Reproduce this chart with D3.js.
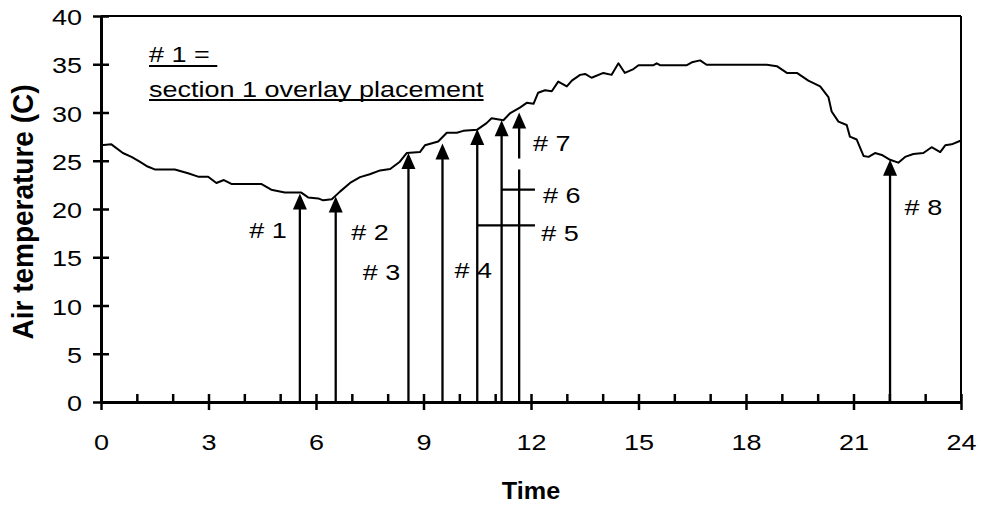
<!DOCTYPE html>
<html><head><meta charset="utf-8">
<script src="https://cdn.jsdelivr.net/npm/d3@7"></script>
<style>body{margin:0;background:#fff}svg{display:block}</style>
</head><body>
<svg id="c" width="982" height="506"></svg>
<script>
// ---- data ----
const times = [0.0,0.29,0.61,0.85,1.08,1.3,1.5,2.06,2.43,2.71,2.99,3.22,3.43,3.64,4.47,4.75,5.13,5.59,5.78,6.06,6.2,6.44,6.67,6.95,7.23,7.5,7.79,8.07,8.34,8.53,8.9,9.04,9.41,9.65,9.93,10.11,10.49,10.76,10.9,11.23,11.41,11.69,11.88,12.07,12.2,12.39,12.58,12.76,13.0,13.14,13.37,13.51,13.69,14.02,14.25,14.44,14.62,14.86,15.0,15.42,15.51,15.6,16.35,16.49,16.72,16.9,18.58,18.86,19.14,19.42,19.74,20.07,20.3,20.39,20.58,20.81,20.9,21.09,21.28,21.42,21.6,21.79,22.02,22.25,22.44,22.67,22.95,23.18,23.42,23.56,23.74,24.0];
const temps = [26.6,26.7,25.8,25.4,24.9,24.4,24.1,24.1,23.7,23.35,23.35,22.7,23.0,22.6,22.6,22.0,21.7,21.7,21.2,21.1,20.9,21.0,21.8,22.7,23.3,23.6,24.0,24.15,24.9,25.8,25.9,26.6,27.0,27.9,27.9,28.1,28.2,28.9,29.4,29.2,29.9,30.5,31.0,30.9,32.05,32.3,32.2,33.2,32.7,33.3,33.9,34.0,33.6,34.1,33.9,35.1,34.1,34.5,34.9,34.9,35.1,34.9,34.9,35.2,35.4,34.95,34.95,34.8,34.1,34.1,33.3,32.7,31.6,30.1,29.05,28.7,27.5,27.2,25.5,25.4,25.8,25.6,25.1,24.8,25.4,25.7,25.8,26.4,25.9,26.6,26.7,27.1];
const arrowNames = ["# 1","# 2","# 3","# 4","# 5","# 6","# 7","# 8"];
const arrowTimes = [5.55,6.55,8.58,9.53,10.5,11.18,11.67,22.02];
const arrowTops  = [21.6,21.3,25.8,26.8,28.3,29.2,30.0,25.1];
const xTickValues = [0,3,6,9,12,15,18,21,24];
const yTickValues = [0,5,10,15,20,25,30,35,40];
const noteLines = ["# 1 =","section 1 overlay placement"];
const xTitle = "Time", yTitle = "Air temperature (C)";

// ---- layout ----
const svg = d3.select("#c");
const FONT = "'Liberation Sans', Arial, Helvetica, sans-serif";
const SX = 1.2; // horizontal text stretch of the reference
const x = d3.scaleLinear().domain([0,24]).range([101,961]);
const y = d3.scaleLinear().domain([0,40]).range([402,16]);

function styleText(sel, size) {
  sel.attr("font-family",FONT).attr("font-size",size).attr("fill","#000");
}

// frame (top + right)
svg.append("line").attr("x1",x(0)).attr("x2",x(24)).attr("y1",y(40)).attr("y2",y(40)).attr("stroke","#000").attr("stroke-width",2);
svg.append("line").attr("x1",x(24)).attr("x2",x(24)).attr("y1",y(40)).attr("y2",y(0)).attr("stroke","#000").attr("stroke-width",2);

// minor x ticks
const minor = d3.range(0,25).filter(h=>h%3!==0);
svg.append("g").attr("transform",`translate(0,${y(0)})`)
  .call(d3.axisBottom(x).tickValues(minor).tickSize(-8).tickSizeOuter(0).tickFormat(""))
  .call(g=>g.select(".domain").remove())
  .call(g=>g.selectAll("line").attr("stroke-width",2.5));

// major x axis
const gx = svg.append("g").attr("transform",`translate(0,${y(0)})`)
  .call(d3.axisBottom(x).tickValues(xTickValues).tickSizeOuter(0).tickFormat(d3.format("d")));
gx.select(".domain").attr("stroke-width",3);
gx.selectAll(".tick line").attr("y1",-8).attr("y2",8).attr("stroke-width",2.5);
gx.selectAll(".tick text").attr("y",0).attr("dy",null).attr("transform",`translate(0,48) scale(${SX},1)`)
  .call(s=>styleText(s,22.5));

// y axis
const gy = svg.append("g").attr("transform",`translate(${x(0)},0)`)
  .call(d3.axisLeft(y).tickValues(yTickValues).tickSizeOuter(0));
gy.select(".domain").attr("stroke-width",3);
gy.selectAll(".tick line").attr("x1",-8).attr("x2",8).attr("stroke-width",2.5);
gy.selectAll(".tick text").attr("x",0).attr("dy",null).attr("y",0)
  .attr("transform",`translate(-19,8.5) scale(${SX},1)`).attr("text-anchor","end")
  .call(s=>styleText(s,22.5));

// titles
svg.append("text").text(xTitle).attr("font-family",FONT).attr("font-weight","bold").attr("font-size",24)
  .attr("text-anchor","middle").attr("transform",`translate(${x(12)},499) scale(1.05,1)`);
svg.append("text").text(yTitle).attr("font-family",FONT).attr("font-weight","bold").attr("font-size",28)
  .attr("text-anchor","middle").attr("transform",`translate(33,212) scale(1.08,1) rotate(-90)`);

// temperature curve
const pts = times.map((t,i)=>[t,temps[i]]);
svg.append("path").datum(pts).attr("fill","none").attr("stroke","#000").attr("stroke-width",2)
  .attr("stroke-linejoin","round")
  .attr("d",d3.line().x(d=>x(d[0])).y(d=>y(d[1])));

// arrows
const AH = 16, AW = 7;
const arrows = arrowTimes.map((t,i)=>({t, top:arrowTops[i], name:arrowNames[i]}));
arrows.forEach((a,i)=>{
  const ax = x(a.t), ty = y(a.top);
  if (i===6) { // #7 has a small break in its shaft
    svg.append("line").attr("x1",ax).attr("x2",ax).attr("y1",y(0)).attr("y2",169.5).attr("stroke","#000").attr("stroke-width",2.3);
    svg.append("line").attr("x1",ax).attr("x2",ax).attr("y1",158.5).attr("y2",ty+AH-2).attr("stroke","#000").attr("stroke-width",2.3);
  } else {
    svg.append("line").attr("x1",ax).attr("x2",ax).attr("y1",y(0)).attr("y2",ty+AH-2).attr("stroke","#000").attr("stroke-width",2.3);
  }
  svg.append("path").attr("d",`M${ax},${ty}L${ax-AW},${ty+AH}L${ax+AW},${ty+AH}Z`).attr("fill","#000");
});

// leader lines for #5 and #6
const leaderEnd = 12.11;
[[4,18.3],[5,22.0]].forEach(([i,v])=>{
  svg.append("line").attr("x1",x(arrowTimes[i])).attr("x2",x(leaderEnd)).attr("y1",y(v)).attr("y2",y(v))
    .attr("stroke","#000").attr("stroke-width",2.3);
});

// arrow labels (positions in data space)
const labelPos = [[4.66,17.8],[7.51,17.65],[7.83,13.5],[10.39,13.7],[12.81,17.5],[12.86,21.45],[12.58,26.8],[22.95,20.2]];
arrows.forEach((a,i)=>{
  svg.append("text").text(a.name).attr("text-anchor","middle")
    .attr("transform",`translate(${x(labelPos[i][0])},${y(labelPos[i][1])+8}) scale(${SX},1)`)
    .call(s=>styleText(s,22.5));
});

// note
const noteBase = [62,97], noteUl = [66,100];
noteLines.forEach((s,i)=>{
  const t = svg.append("text").text(s)
    .attr("transform",`translate(149,${noteBase[i]}) scale(${SX},1)`)
    .call(q=>styleText(q,22.5));
  let w = t.node().getComputedTextLength()*SX;
  if (i===0) w += 0.278*22.5*SX;
  svg.append("line").attr("x1",149).attr("x2",149+w).attr("y1",noteUl[i]).attr("y2",noteUl[i]).attr("stroke","#000").attr("stroke-width",2);
});
</script>
</body></html>
